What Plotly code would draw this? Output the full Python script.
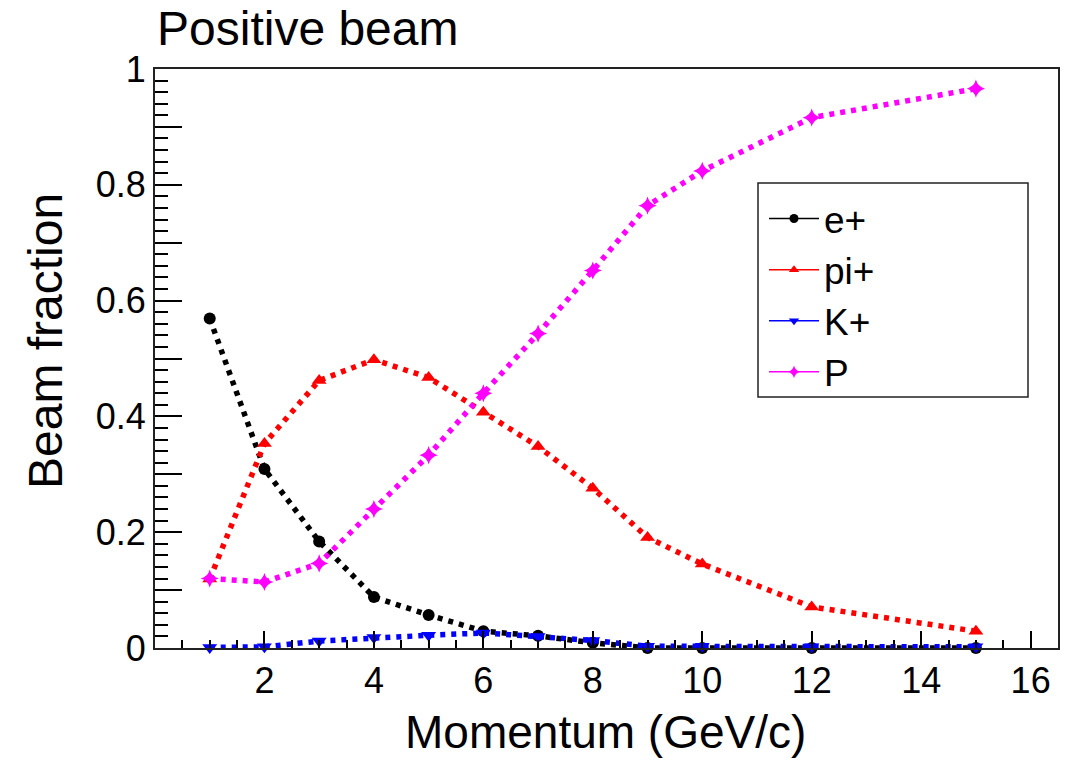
import plotly.graph_objects as go

momentum = [1, 2, 3, 4, 5, 6, 7, 8, 9, 10, 12, 15]
e_plus = [0.569, 0.309, 0.184, 0.088, 0.057, 0.029, 0.021, 0.009, 0.0, 0.0, 0.0, 0.0]
pi_plus = [0.119, 0.353, 0.462, 0.498, 0.467, 0.407, 0.348, 0.276, 0.191, 0.145, 0.071, 0.029]
k_plus = [0.001, 0.002, 0.012, 0.018, 0.022, 0.026, 0.02, 0.013, 0.003, 0.003, 0.002, 0.002]
proton = [0.12, 0.114, 0.146, 0.24, 0.333, 0.44, 0.543, 0.652, 0.764, 0.824, 0.916, 0.966]

series_names = ["e+", "pi+", "K+", "P"]
series_values = [e_plus, pi_plus, k_plus, proton]
series_colors = ["#000000", "#ff0000", "#0000ff", "#ff00ff"]
series_symbols = ["circle", "triangle-up", "triangle-down", "star-diamond"]
series_sizes = [12, 13, 13, 13]

y_tickvals = [round(0.1 * i, 1) for i in range(11)]
y_ticktext = ["0", "", "0.2", "", "0.4", "", "0.6", "", "0.8", "", "1"]
x_tickvals = [2, 4, 6, 8, 10, 12, 14, 16]

FONT = "Liberation Sans, Arial, Helvetica, sans-serif"

fig = go.Figure()
for name, vals, col, sym, sz in zip(series_names, series_values, series_colors, series_symbols, series_sizes):
    fig.add_trace(go.Scatter(
        x=momentum, y=vals, name=name, mode="lines+markers",
        line=dict(color=col, width=5.5, dash="5px,6px"),
        marker=dict(color=col, symbol=sym, size=sz, line=dict(width=0)),
        cliponaxis=False, showlegend=False,
    ))

# legend entries (solid thin line with small marker, as in the reference)
for name, col, sym in zip(series_names, series_colors, series_symbols):
    fig.add_trace(go.Scatter(
        x=[None], y=[None], name=name, mode="lines+markers",
        line=dict(color=col, width=1.5),
        marker=dict(color=col, symbol=sym, size=9, line=dict(width=0)),
        showlegend=True,
    ))

L, R, T, B = 155, 26, 69, 113
W, H = 1084, 761
pw = W - L - R
ph = H - T - B

def px(xp):
    return (xp - L) / pw

def py(yp):
    return (H - B - yp) / ph

fig.update_layout(
    width=W, height=H,
    margin=dict(l=L, r=R, t=T, b=B, pad=0),
    paper_bgcolor="white", plot_bgcolor="white",
    font=dict(family=FONT, color="black"),
    showlegend=True,
    legend=dict(
        x=px(764), y=py(188), xanchor="left", yanchor="top",
        bgcolor="rgba(0,0,0,0)", borderwidth=0,
        font=dict(size=37, family=FONT, color="black"),
        itemwidth=50, tracegroupgap=0,
    ),
    xaxis=dict(
        range=[0, 16.5], showgrid=False, zeroline=False,
        showline=True, linecolor="#222", linewidth=2, mirror=True,
        tickmode="array", tickvals=x_tickvals,
        ticks="inside", ticklen=17, tickwidth=1.5, tickcolor="black",
        tickfont=dict(size=36, family=FONT, color="black"),
        minor=dict(ticks="inside", dtick=0.5, tick0=0, ticklen=8, tickwidth=1.5, tickcolor="black"),
    ),
    yaxis=dict(
        range=[0, 1], showgrid=False, zeroline=False,
        showline=True, linecolor="#222", linewidth=2, mirror=True,
        tickmode="array", tickvals=y_tickvals, ticktext=y_ticktext,
        ticks="inside", ticklen=27, tickwidth=1.5, tickcolor="black",
        tickfont=dict(size=36, family=FONT, color="black"),
        minor=dict(ticks="inside", dtick=0.02, tick0=0, ticklen=13, tickwidth=1.5, tickcolor="black"),
    ),
    shapes=[dict(type="rect", xref="paper", yref="paper",
                 x0=px(758), x1=px(1028), y0=py(397), y1=py(183),
                 line=dict(color="#222", width=1.5), fillcolor="rgba(0,0,0,0)")],
    annotations=[
        dict(text="Positive beam", xref="paper", yref="paper", x=0, y=py(29),
             xanchor="left", yanchor="middle", showarrow=False,
             font=dict(size=48, family=FONT, color="black")),
        dict(text="Momentum (GeV/c)", xref="paper", yref="paper", x=px(605), y=py(760),
             xanchor="center", yanchor="bottom", showarrow=False,
             font=dict(size=46, family=FONT, color="black")),
        dict(text="Beam fraction", xref="paper", yref="paper", x=px(45), y=py(341),
             xanchor="center", yanchor="middle", showarrow=False, textangle=-90,
             font=dict(size=48, family=FONT, color="black")),
    ],
)

fig.write_html("out.html")
